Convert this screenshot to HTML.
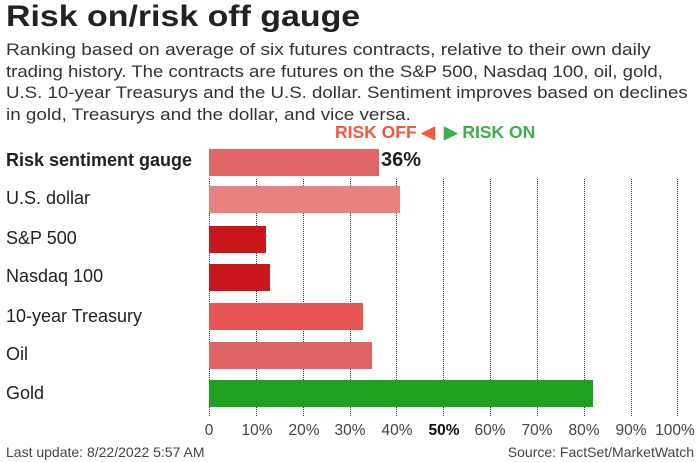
<!DOCTYPE html>
<html><head><style>
body{margin:0;width:700px;height:462px;background:#fff;font-family:"Liberation Sans",sans-serif;position:relative;overflow:hidden;color:#222}
.t{position:absolute;left:6px;top:0px;font-size:30px;font-weight:bold;color:#222;transform:scaleX(1.13);transform-origin:0 0}
.d{position:absolute;left:6px;font-size:17px;line-height:21.6px;color:#333;white-space:nowrap;transform-origin:0 0}
.lab{position:absolute;left:6px;font-size:18px;color:#222}
.bar{position:absolute;left:209px;height:27px}
.g{position:absolute;top:148px;height:268px;border-left:1.3px dotted #333}
.tk{position:absolute;top:422px;font-size:15.5px;color:#444;transform:translateX(-50%)}
</style></head><body>
<div class="t">Risk on/risk off gauge</div>
<div class="d" style="top:39px;transform:scaleX(1.122)">Ranking based on average of six futures contracts, relative to their own daily</div>
<div class="d" style="top:60.6px;transform:scaleX(1.093)">trading history. The contracts are futures on the S&amp;P 500, Nasdaq 100, oil, gold,</div>
<div class="d" style="top:82.2px;transform:scaleX(1.098)">U.S. 10-year Treasurys and the U.S. dollar. Sentiment improves based on declines</div>
<div class="d" style="top:103.8px;transform:scaleX(1.11)">in gold, Treasurys and the dollar, and vice versa.</div>
<div style="position:absolute;left:335px;top:122px;font-size:17.5px;font-weight:bold;color:#f05a3c">RISK OFF ◀</div>
<div style="position:absolute;left:444px;top:122px;font-size:17.5px;font-weight:bold;color:#3fae49">▶ RISK ON</div>
<div class="g" style="left:209px"></div><div class="g" style="left:256px"></div><div class="g" style="left:303px"></div><div class="g" style="left:350px"></div><div class="g" style="left:396px"></div><div class="g" style="left:443px"></div><div class="g" style="left:490px"></div><div class="g" style="left:537px"></div><div class="g" style="left:584px"></div><div class="g" style="left:631px"></div><div class="g" style="left:677px"></div>
<div style="position:absolute;left:200px;top:140px;width:500px;height:38px;background:#fff"></div>
<div class="lab" style="top:150px;font-weight:bold">Risk sentiment gauge</div>
<div class="lab" style="top:188px">U.S. dollar</div>
<div class="lab" style="top:228px">S&amp;P 500</div>
<div class="lab" style="top:266px">Nasdaq 100</div>
<div class="lab" style="top:306px">10-year Treasury</div>
<div class="lab" style="top:344px">Oil</div>
<div class="lab" style="top:383px">Gold</div>
<div class="bar" style="top:149px;width:170px;background:#e06666"></div>
<div style="position:absolute;left:381px;top:149px;font-size:20px;font-weight:bold;color:#222">36%</div>
<div class="bar" style="top:186px;width:191px;background:#e8827e"></div>
<div class="bar" style="top:226px;width:57px;background:#c8161c"></div>
<div class="bar" style="top:264px;width:61px;background:#c8161c"></div>
<div class="bar" style="top:303px;width:154px;background:#e85555"></div>
<div class="bar" style="top:342px;width:163px;background:#e06464"></div>
<div class="bar" style="top:380px;width:384px;background:#1ea11e"></div>
<div class="tk" style="left:209px">0</div><div class="tk" style="left:257px">10%</div><div class="tk" style="left:304px">20%</div><div class="tk" style="left:350px">30%</div><div class="tk" style="left:397px">40%</div><div class="tk" style="left:444px;color:#111;font-weight:bold">50%</div><div class="tk" style="left:490px">60%</div><div class="tk" style="left:537px">70%</div><div class="tk" style="left:584px">80%</div><div class="tk" style="left:631px">90%</div><div class="tk" style="left:675px">100%</div>
<div style="position:absolute;left:6px;top:444px;font-size:14px;color:#444">Last update: 8/22/2022 5:57 AM</div>
<div style="position:absolute;right:6px;top:444px;font-size:14px;color:#444">Source: FactSet/MarketWatch</div>
</body></html>
